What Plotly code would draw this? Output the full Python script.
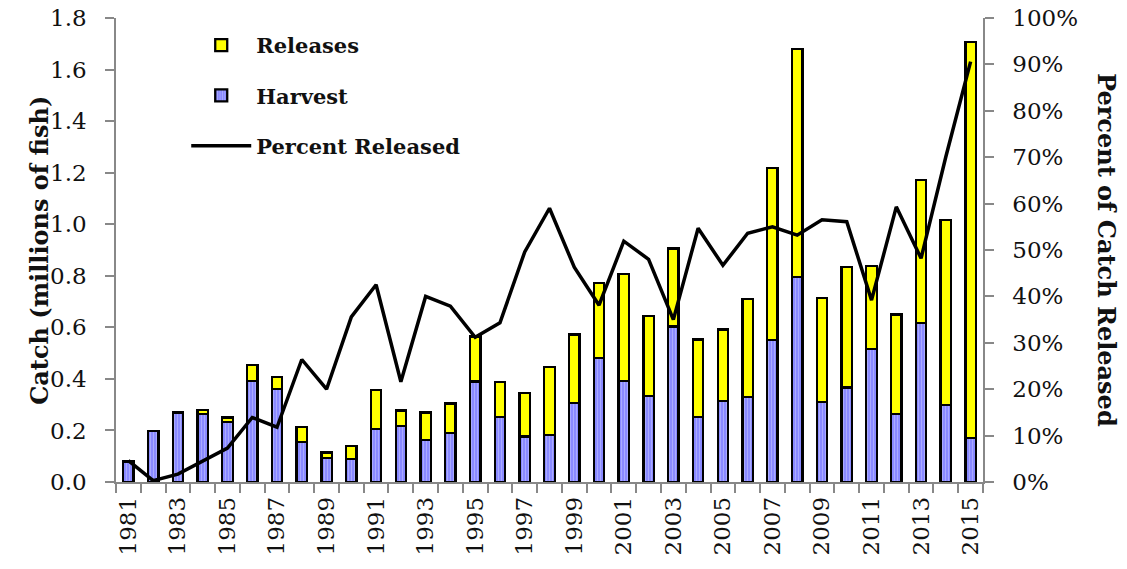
import plotly.graph_objects as go

years = list(range(1981, 2016))
harvest = [0.078, 0.197, 0.268, 0.265, 0.233, 0.392, 0.360, 0.156, 0.093, 0.089,
           0.205, 0.217, 0.162, 0.190, 0.390, 0.253, 0.176, 0.182, 0.307, 0.481,
           0.391, 0.334, 0.603, 0.251, 0.315, 0.331, 0.551, 0.794, 0.311, 0.367,
           0.515, 0.265, 0.616, 0.299, 0.170]
releases = [0.001, 0.002, 0.004, 0.015, 0.017, 0.061, 0.048, 0.058, 0.021, 0.051,
            0.151, 0.060, 0.108, 0.115, 0.175, 0.134, 0.168, 0.265, 0.265, 0.290,
            0.416, 0.310, 0.303, 0.302, 0.277, 0.378, 0.666, 0.886, 0.404, 0.466,
            0.324, 0.385, 0.555, 0.717, 1.538]
pct_released = [4.6, 0.3, 1.7, 4.4, 7.3, 13.9, 11.8, 26.4, 20.0, 35.6,
                42.5, 21.6, 40.0, 37.9, 31.2, 34.3, 49.6, 59.0, 46.3, 38.1,
                51.9, 48.0, 35.0, 54.7, 46.7, 53.6, 55.0, 53.2, 56.5, 56.1,
                39.2, 59.3, 48.2, 70.1, 90.6]
tick_years = list(range(1981, 2016, 2))

FONT = "DejaVu Serif, serif"
AX = "#888"

fig = go.Figure()
fig.add_trace(go.Bar(
    x=years, y=harvest, name="Harvest", width=0.42, legendrank=2, legendgroup="h",
    marker=dict(color="#8a8aff", line=dict(color="black", width=2.3),
                pattern=dict(shape="|", fgcolor="#d0d0ff", bgcolor="#8a8aff",
                             size=3, solidity=0.3)),
))
fig.add_trace(go.Bar(
    x=years, y=releases, name="Releases", width=0.42, legendrank=1, legendgroup="r",
    marker=dict(color="#ffff00", line=dict(color="black", width=2.3)),
))
fig.add_trace(go.Scatter(
    x=years, y=[p / 100 for p in pct_released], name="Percent Released",
    yaxis="y2", mode="lines", legendrank=3, legendgroup="p",
    line=dict(color="black", width=3.5),
))

tickfont = dict(family=FONT, size=23, color="#111")

fig.update_layout(
    width=1127, height=569,
    margin=dict(l=116, r=144, t=18, b=87, autoexpand=False),
    barmode="stack",
    paper_bgcolor="white", plot_bgcolor="white",
    font=dict(family=FONT, size=23, color="#111"),
    showlegend=True,
    legend=dict(x=0.081, y=0.985, xanchor="left", yanchor="top",
                font=dict(family=FONT, size=21, color="#111", weight="bold"),
                bgcolor="rgba(0,0,0,0)", tracegroupgap=20, itemwidth=60),
    xaxis=dict(range=[1980.5, 2015.5], tickmode="array", tickvals=tick_years,
               ticktext=[str(y) for y in tick_years], tickangle=-90,
               ticks="", showline=True, linecolor=AX, linewidth=1.5,
               showgrid=False, zeroline=False, automargin=False,
               ticklabelstandoff=4, tickfont=tickfont,
               minor=dict(tickmode="linear", tick0=1980.5, dtick=1, ticks="outside",
                          ticklen=9, tickcolor=AX, tickwidth=1.5, showgrid=False)),
    yaxis=dict(range=[0, 1.8], dtick=0.2, tickformat=".1f", ticks="outside",
               ticklen=9, tickcolor=AX, tickwidth=1.5, showline=True,
               linecolor=AX, linewidth=1.5, showgrid=False, zeroline=False,
               automargin=False, ticklabelstandoff=14, tickfont=tickfont),
    yaxis2=dict(range=[0, 1], dtick=0.1, tickformat=".0%", overlaying="y",
                side="right", ticks="outside", ticklen=9, tickcolor=AX,
                tickwidth=1.5, showline=True, linecolor=AX, linewidth=1.5,
                showgrid=False, zeroline=False, automargin=False,
                ticklabelstandoff=14, tickfont=tickfont),
    annotations=[
        dict(text="<b>Catch (millions of fish)</b>", x=-0.089, xref="paper",
             xanchor="center", y=0.5, yref="paper", yanchor="middle",
             textangle=-90, showarrow=False,
             font=dict(family=FONT, size=24, color="#111")),
        dict(text="<b>Percent of Catch Released</b>", x=1.143, xref="paper",
             xanchor="center", y=0.5, yref="paper", yanchor="middle",
             textangle=90, showarrow=False,
             font=dict(family=FONT, size=24, color="#111")),
    ],
)

fig.write_html("out.html", config={"displayModeBar": False},
               post_script="document.body.style.margin='0';")
